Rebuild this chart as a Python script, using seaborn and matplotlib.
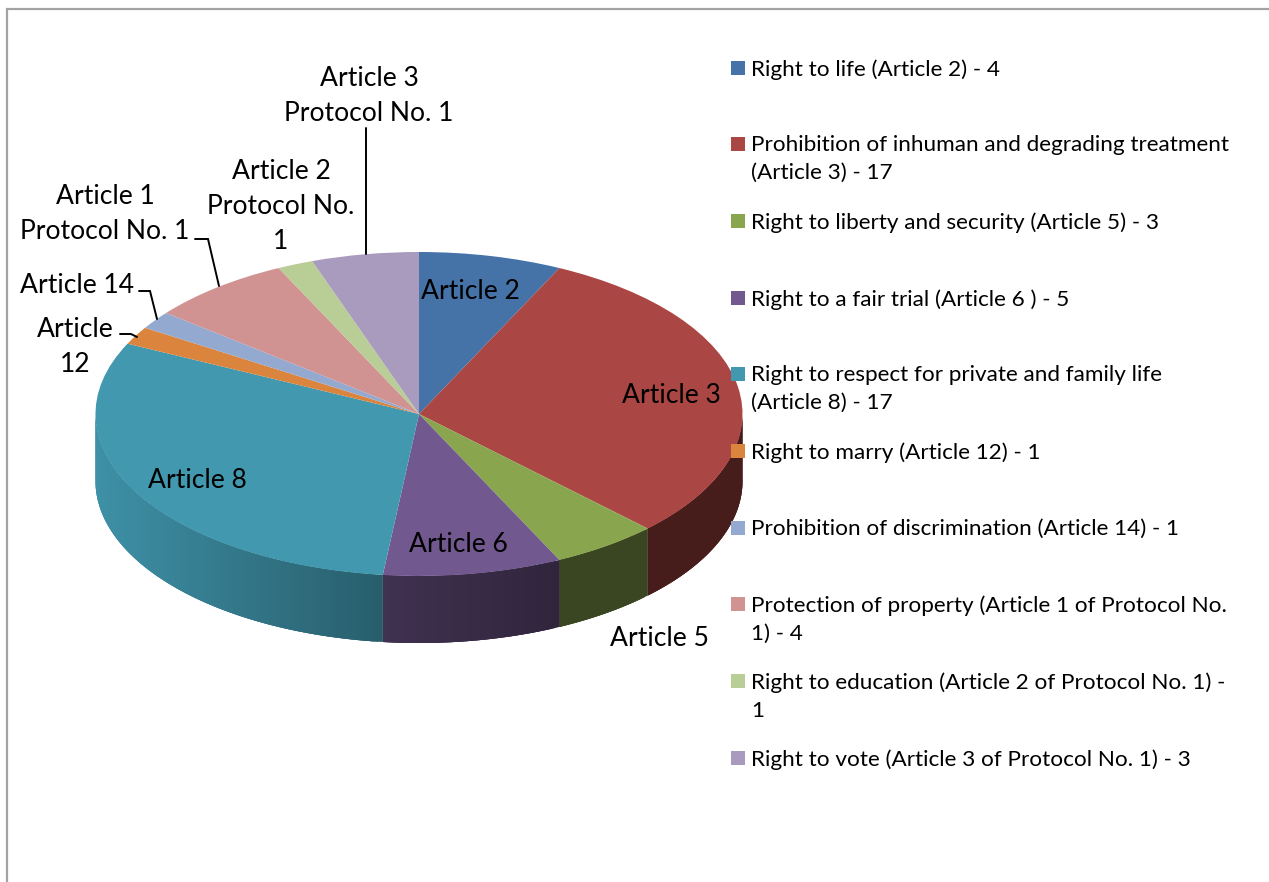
import numpy as np
import matplotlib
matplotlib.use("Agg")
import matplotlib.pyplot as plt
import seaborn as sns

values = [4, 17, 3, 5, 17, 1, 1, 4, 1, 3]
colors = ['#4572A7', '#AA4643', '#89A54E', '#71588F', '#4198AF',
          '#DB843D', '#93A9CF', '#D19392', '#B9CD96', '#A99BBD']
legend_labels = [
    'Right to life (Article 2) - 4',
    'Prohibition of inhuman and degrading treatment\n(Article 3) - 17',
    'Right to liberty and security (Article 5) - 3',
    'Right to a fair trial (Article 6 ) - 5',
    'Right to respect for private and family life\n(Article 8) - 17',
    'Right to marry (Article 12) - 1',
    'Prohibition of discrimination (Article 14) - 1',
    'Protection of property (Article 1 of Protocol No.\n1) - 4',
    'Right to education (Article 2 of Protocol No. 1) -\n1',
    'Right to vote (Article 3 of Protocol No. 1) - 3',
]
legend_y = [68, 144, 221, 298, 374, 451, 528, 604, 681, 758]
slice_labels = [
    ('Article 3\nProtocol No. 1', 369, 96),
    ('Article 2\nProtocol No.\n1', 281, 206),
    ('Article 1\nProtocol No. 1', 105, 214),
    ('Article 14', 77, 285),
    ('Article\n12', 75, 347),
    ('Article 2', 470, 291),
    ('Article 3', 671, 395),
    ('Article 8', 197, 480),
    ('Article 6', 458, 545),
    ('Article 5', 659, 639),
]
leaders = [
    ([366, 366], [128, 254]),
    ([195, 208, 219], [239, 239, 286]),
    ([139, 150, 157], [291, 291, 319]),
    ([120, 131, 137], [334, 334, 337]),
]

W, H = 1269, 882
cx, cy, rx, ry, depth = 419, 414, 323.5, 162, 67


def px(x, y):
    return (np.asarray(x) - cx) / rx, (cy - np.asarray(y)) / ry


def side_shade(x):
    return np.interp(x, [96, 140, 380, 384, 560, 743],
                     [0.95, 0.9, 0.62, 0.56, 0.42, 0.42])


sns.set_theme(style="white")
plt.rcParams['font.family'] = ['Lato', 'DejaVu Sans']

fig = plt.figure(figsize=(W / 100, H / 100), dpi=100)
ax = fig.add_axes([0, 0, 1, 1])

# top of the pie
ax.pie(values, colors=colors, startangle=90, counterclock=False, radius=1,
       wedgeprops=dict(linewidth=0.3, edgecolor='none'))
ax.set_aspect('auto')
ax.set_xlim(*px([0, W], [0, 0])[0])
ax.set_ylim(px(0, H)[1], px(0, 0)[1])
ax.axis('off')

# side wall, front half only. quads overlap a bit so no seams show
edges = np.cumsum([0] + values) / sum(values) * 360
d = depth / ry
for i, col in enumerate(colors):
    a0, a1 = max(edges[i], 90), min(edges[i + 1], 270)
    if a0 >= a1:
        continue
    deg = np.append(np.arange(a0, a1, 0.75), a1)
    base = np.array(matplotlib.colors.to_rgb(col))
    for g0, g1 in zip(deg[:-1], deg[1:]):
        tt = np.radians(np.linspace(g0, min(g1 + 1.5, a1), 4))
        xs, ys = np.sin(tt), np.cos(tt)
        c = base * side_shade(cx + rx * np.sin(np.radians((g0 + g1) / 2)))
        ax.fill(np.r_[xs, xs[::-1]], np.r_[ys, ys[::-1] - d],
                facecolor=c, edgecolor='none', linewidth=0, zorder=0.5)

for xs, ys in leaders:
    ax.plot(*px(xs, ys), color='black', lw=1.4, zorder=3, solid_joinstyle='miter')

for txt, x, y in slice_labels:
    ax.text(*px(x, y), txt, ha='center', va='center', fontsize=19.1,
            color='black', linespacing=1.5, zorder=4)

# legend drawn by hand so the rows keep the uneven spacing
for lab, col, y in zip(legend_labels, colors, legend_y):
    ax.fill(*px([731, 745, 745, 731], [y - 7, y - 7, y + 7, y + 7]),
            color=col, linewidth=0, zorder=4)
    ax.text(*px(751, y - 9), lab, ha='left', va='top', fontsize=16.2,
            color='black', linespacing=1.52, zorder=4)

# chart frame, cut off at the right and bottom
ax.plot(*px([6.5, 6.5, W], [H, 8.5, 8.5]), color='#a3a3a3', lw=1.6, zorder=5,
        solid_joinstyle='miter', clip_on=False)

fig.savefig('out.png', dpi=100, facecolor='white')
